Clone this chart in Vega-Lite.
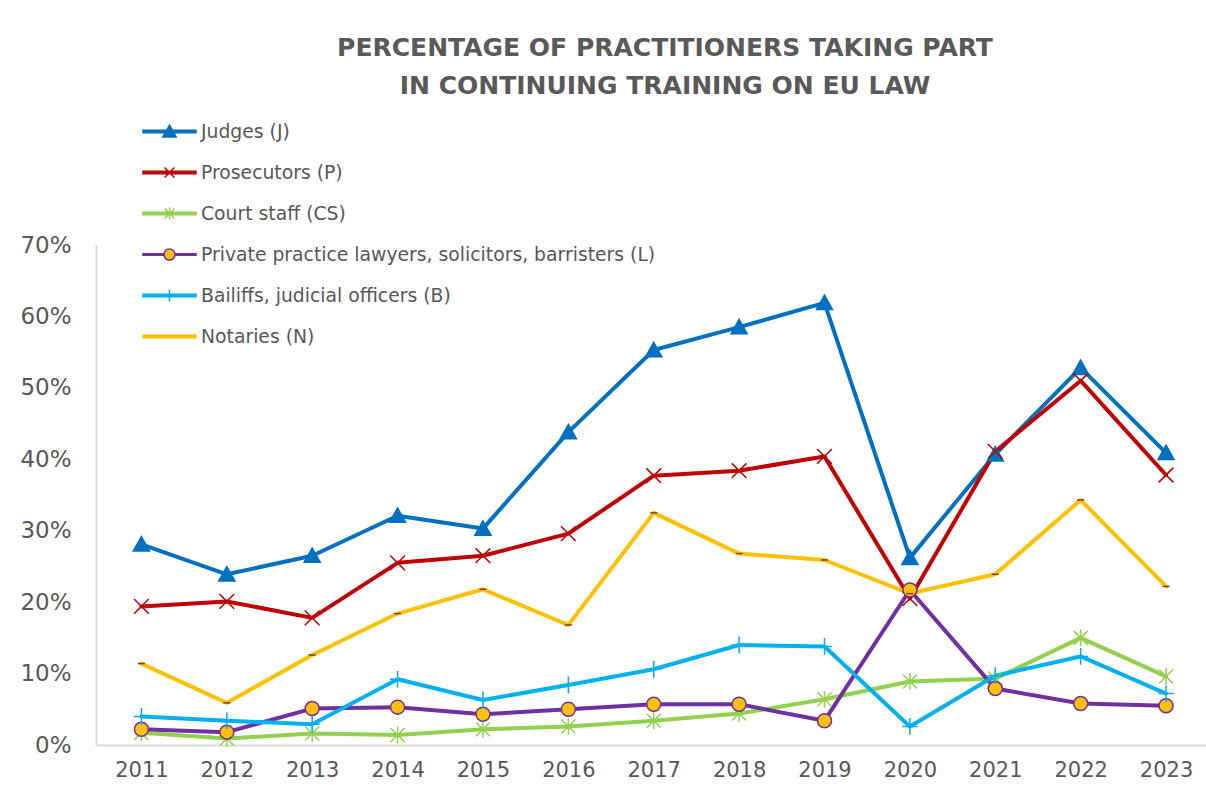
{
  "$schema": "https://vega.github.io/schema/vega-lite/v6.json",
  "autosize": {"type": "none"},
  "padding": {"left": 96, "top": 245, "right": 0, "bottom": 40},
  "width": 1110,
  "height": 500,
  "background": "white",
  "config": {"font": "DejaVu Sans", "view": {"stroke": null}},
  "title": {
    "text": ["PERCENTAGE OF PRACTITIONERS TAKING PART", "IN CONTINUING TRAINING ON EU LAW"],
    "anchor": "middle",
    "frame": "group",
    "fontSize": 25,
    "fontWeight": "bold",
    "color": "#595959",
    "font": "DejaVu Sans",
    "lineHeight": 38,
    "offset": 17,
    "dx": 14
  },
  "params": [
    {"name": "serNames", "value": ["Judges (J)", "Prosecutors (P)", "Court staff (CS)", "Private practice lawyers, solicitors, barristers (L)", "Bailiffs, judicial officers (B)", "Notaries (N)"]},
    {"name": "lgShape", "value": [
      "M-1.767,-0.083H1.767V0.083H-1.767ZM0,-0.42L0.45,0.36H-0.45Z",
      "M-1.767,-0.083H1.767V0.083H-1.767ZM-0.33,-0.33L0.33,0.33M-0.33,0.33L0.33,-0.33",
      "M-1.767,-0.083H1.767V0.083H-1.767ZM-0.33,-0.33L0.33,0.33M-0.33,0.33L0.33,-0.33M0,-0.42L0,0.42",
      "M-1.767,-0.055H-0.37V0.055H-1.767ZM0.37,-0.055H1.767V0.055H0.37ZM-0.37,0A0.37,0.37,0,1,1,0.37,0A0.37,0.37,0,1,1,-0.37,0Z",
      "M-1.767,-0.083H1.767V0.083H-1.767ZM0,-0.4L0,0.4",
      "M-1.767,-0.083H1.767V0.083H-1.767Z"
    ]},
    {"name": "lgFill", "value": ["#0070C0", "#C00000", "#92D050", "#FFC000", "#00B0F0", "#FFC000"]}
  ],
  "data": {"values": [
    {"year": "2011", "Judges (J)": 0.281, "Prosecutors (P)": 0.194, "Court staff (CS)": 0.017, "Private practice lawyers, solicitors, barristers (L)": 0.022, "Bailiffs, judicial officers (B)": 0.040, "Notaries (N)": 0.114},
    {"year": "2012", "Judges (J)": 0.239, "Prosecutors (P)": 0.201, "Court staff (CS)": 0.009, "Private practice lawyers, solicitors, barristers (L)": 0.018, "Bailiffs, judicial officers (B)": 0.034, "Notaries (N)": 0.059},
    {"year": "2013", "Judges (J)": 0.265, "Prosecutors (P)": 0.178, "Court staff (CS)": 0.016, "Private practice lawyers, solicitors, barristers (L)": 0.051, "Bailiffs, judicial officers (B)": 0.029, "Notaries (N)": 0.126},
    {"year": "2014", "Judges (J)": 0.321, "Prosecutors (P)": 0.255, "Court staff (CS)": 0.014, "Private practice lawyers, solicitors, barristers (L)": 0.053, "Bailiffs, judicial officers (B)": 0.092, "Notaries (N)": 0.184},
    {"year": "2015", "Judges (J)": 0.303, "Prosecutors (P)": 0.265, "Court staff (CS)": 0.022, "Private practice lawyers, solicitors, barristers (L)": 0.043, "Bailiffs, judicial officers (B)": 0.063, "Notaries (N)": 0.218},
    {"year": "2016", "Judges (J)": 0.438, "Prosecutors (P)": 0.296, "Court staff (CS)": 0.026, "Private practice lawyers, solicitors, barristers (L)": 0.050, "Bailiffs, judicial officers (B)": 0.084, "Notaries (N)": 0.168},
    {"year": "2017", "Judges (J)": 0.553, "Prosecutors (P)": 0.377, "Court staff (CS)": 0.034, "Private practice lawyers, solicitors, barristers (L)": 0.057, "Bailiffs, judicial officers (B)": 0.106, "Notaries (N)": 0.325},
    {"year": "2018", "Judges (J)": 0.585, "Prosecutors (P)": 0.384, "Court staff (CS)": 0.044, "Private practice lawyers, solicitors, barristers (L)": 0.057, "Bailiffs, judicial officers (B)": 0.140, "Notaries (N)": 0.268},
    {"year": "2019", "Judges (J)": 0.619, "Prosecutors (P)": 0.404, "Court staff (CS)": 0.064, "Private practice lawyers, solicitors, barristers (L)": 0.034, "Bailiffs, judicial officers (B)": 0.138, "Notaries (N)": 0.259},
    {"year": "2020", "Judges (J)": 0.262, "Prosecutors (P)": 0.205, "Court staff (CS)": 0.089, "Private practice lawyers, solicitors, barristers (L)": 0.217, "Bailiffs, judicial officers (B)": 0.026, "Notaries (N)": 0.212},
    {"year": "2021", "Judges (J)": 0.407, "Prosecutors (P)": 0.411, "Court staff (CS)": 0.093, "Private practice lawyers, solicitors, barristers (L)": 0.079, "Bailiffs, judicial officers (B)": 0.097, "Notaries (N)": 0.239},
    {"year": "2022", "Judges (J)": 0.528, "Prosecutors (P)": 0.510, "Court staff (CS)": 0.150, "Private practice lawyers, solicitors, barristers (L)": 0.058, "Bailiffs, judicial officers (B)": 0.124, "Notaries (N)": 0.343},
    {"year": "2023", "Judges (J)": 0.409, "Prosecutors (P)": 0.378, "Court staff (CS)": 0.096, "Private practice lawyers, solicitors, barristers (L)": 0.055, "Bailiffs, judicial officers (B)": 0.072, "Notaries (N)": 0.222}
  ]},
  "transform": [
    {"fold": ["Judges (J)", "Prosecutors (P)", "Court staff (CS)", "Private practice lawyers, solicitors, barristers (L)", "Bailiffs, judicial officers (B)", "Notaries (N)"], "as": ["series", "value"]}
  ],
  "encoding": {
    "x": {
      "field": "year", "type": "ordinal",
      "scale": {"type": "point", "paddingOuter": 0.4475, "align": 0.532},
      "axis": {"title": null, "labelAngle": 0, "ticks": false, "grid": false, "domainColor": "#D9D9D9", "domainWidth": 2, "labelFontSize": 21, "labelColor": "#595959", "labelPadding": 14}
    },
    "y": {
      "field": "value", "type": "quantitative",
      "scale": {"domain": [0, 0.7], "nice": false},
      "axis": {"title": null, "values": [0, 0.1, 0.2, 0.3, 0.4, 0.5, 0.6, 0.7], "format": ".0%", "ticks": false, "grid": false, "domainColor": "#D9D9D9", "domainWidth": 2, "labelFontSize": 23, "labelColor": "#595959", "labelPadding": 25}
    }
  },
  "layer": [
    {
      "mark": {"type": "line", "strokeWidth": 4, "strokeJoin": "round", "strokeCap": "round"},
      "encoding": {
        "color": {
          "field": "series", "type": "nominal",
          "scale": {
            "domain": ["Judges (J)", "Prosecutors (P)", "Court staff (CS)", "Private practice lawyers, solicitors, barristers (L)", "Bailiffs, judicial officers (B)", "Notaries (N)"],
            "range": ["#0070C0", "#C00000", "#92D050", "#7030A0", "#00B0F0", "#FFC000"]
          },
          "legend": {
            "orient": "none", "direction": "vertical", "legendX": 57.5, "legendY": -129.5,
            "title": null, "padding": 0, "symbolSize": 900, "symbolStrokeWidth": 1.5, "symbolOffset": 0,
            "labelOffset": 15.5, "rowPadding": 15, "labelFontSize": 18.8, "labelColor": "#595959", "labelLimit": 800, "labelFont": "DejaVu Sans",
            "encode": {
              "symbols": {
                "update": {
                  "shape": {"signal": "lgShape[indexof(serNames, datum.value)]"},
                  "fill": {"signal": "lgFill[indexof(serNames, datum.value)]"},
                  "opacity": {"value": 1}
                }
              }
            }
          }
        }
      }
    },
    {
      "mark": {"type": "point", "filled": true, "size": 196, "strokeWidth": 1.5, "opacity": 1},
      "encoding": {
        "shape": {
          "field": "series", "type": "nominal",
          "scale": {
            "domain": ["Bailiffs, judicial officers (B)", "Court staff (CS)", "Judges (J)", "Notaries (N)", "Private practice lawyers, solicitors, barristers (L)", "Prosecutors (P)"],
            "range": ["M-1.1,0L1.1,0M0,-1.2L0,1.2", "M-1,-1L1,1M-1,1L1,-1M0,-1.2L0,1.2", "M0,-1.1L1.15,0.95H-1.15Z", "M-0.5,0L0.5,0", "circle", "M-1.05,-1.05L1.05,1.05M-1.05,1.05L1.05,-1.05"]
          },
          "legend": null
        },
        "fill": {
          "field": "series", "type": "nominal",
          "scale": {
            "domain": ["Bailiffs, judicial officers (B)", "Court staff (CS)", "Judges (J)", "Notaries (N)", "Private practice lawyers, solicitors, barristers (L)", "Prosecutors (P)"],
            "range": ["#00B0F0", "#92D050", "#0070C0", "#843C0C", "#FFC000", "#C00000"]
          },
          "legend": null
        },
        "stroke": {
          "field": "series", "type": "nominal",
          "scale": {
            "domain": ["Bailiffs, judicial officers (B)", "Court staff (CS)", "Judges (J)", "Notaries (N)", "Private practice lawyers, solicitors, barristers (L)", "Prosecutors (P)"],
            "range": ["#00B0F0", "#92D050", "#0070C0", "#843C0C", "#7030A0", "#C00000"]
          },
          "legend": null
        }
      }
    }
  ]
}
